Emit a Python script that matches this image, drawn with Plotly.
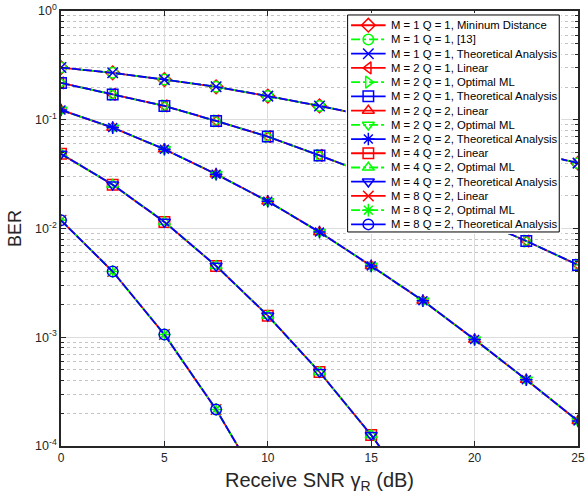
import plotly.graph_objects as go

# ---------------- data ----------------
snr_db = [0, 2.5, 5, 7.5, 10, 12.5, 15, 17.5, 20, 22.5, 25]

ber_m1_q1 = [0.302, 0.270, 0.234, 0.201, 0.165, 0.134, 0.107, 0.0851, 0.0668, 0.0519, 0.0399]
ber_m2_q1 = [0.218, 0.171, 0.134, 0.0975, 0.070, 0.047, 0.031, 0.0198, 0.0124, 0.00767, 0.00462]
ber_m2_q2 = [0.123, 0.0847, 0.0536, 0.0316, 0.0178, 0.00927, 0.00453, 0.00217, 0.000953, 0.000407, 0.000170]
ber_m4_q2 = [0.0486, 0.0253, 0.0115, 0.00453, 0.00158, 0.000479, 0.000126, 0.000028]
ber_m8_q2 = [0.0119, 0.00402, 0.00106, 0.000217, 0.000034]

series_names = [
    "M = 1 Q = 1, Mininum Distance",
    "M = 1 Q = 1, [13]",
    "M = 1 Q = 1, Theoretical Analysis",
    "M = 2 Q = 1, Linear",
    "M = 2 Q = 1, Optimal ML",
    "M = 2 Q = 1, Theoretical Analysis",
    "M = 2 Q = 2, Linear",
    "M = 2 Q = 2, Optimal ML",
    "M = 2 Q = 2, Theoretical Analysis",
    "M = 4 Q = 2, Linear",
    "M = 4 Q = 2, Optimal ML",
    "M = 4 Q = 2, Theoretical Analysis",
    "M = 8 Q = 2, Linear",
    "M = 8 Q = 2, Optimal ML",
    "M = 8 Q = 2, Theoretical Analysis",
]
series_values = [
    ber_m1_q1, ber_m1_q1, ber_m1_q1,
    ber_m2_q1, ber_m2_q1, ber_m2_q1,
    ber_m2_q2, ber_m2_q2, ber_m2_q2,
    ber_m4_q2, ber_m4_q2, ber_m4_q2,
    ber_m8_q2, ber_m8_q2, ber_m8_q2,
]

y_tick_vals = [1e-4, 1e-3, 1e-2, 1e-1, 1e0]
y_tick_text = ["10<sup>-4</sup>", "10<sup>-3</sup>", "10<sup>-2</sup>", "10<sup>-1</sup>", "10<sup>0</sup>"]
x_tick_vals = [0, 5, 10, 15, 20, 25]

# ---------------- styles ----------------
RED, GREEN, BLUE = "#FF0000", "#00FF00", "#0000FF"
colors = [RED, GREEN, BLUE] * 5
dashes = ["solid", "dashdot", "solid"] * 5
plot_dashes = ["solid", "dashdot", "9px,2px"] * 5
symbols = [
    "diamond-open", "circle-open", "x-thin-open",
    "triangle-left-open", "triangle-right-open", "square-open",
    "triangle-up-open", "triangle-down-open", "asterisk-open",
    "square-open", "triangle-up-open", "triangle-down-open",
    "x-thin-open", "asterisk-open", "circle-open",
]
LW = 1.8
MS = 10.5
FONT = "Liberation Sans, Arial, sans-serif"
AX = "#262626"

fig = go.Figure()

for name, vals, c, d, s in zip(series_names, series_values, colors, plot_dashes, symbols):
    fig.add_trace(go.Scatter(
        x=snr_db[:len(vals)], y=vals, name=name, mode="lines+markers",
        line=dict(color=c, width=LW, dash=d),
        marker=dict(symbol=s, size=MS, color=c, line=dict(color=c, width=1.5)),
        showlegend=False, xaxis="x", yaxis="y",
    ))

# ---------------- legend (inset panel in pixel-like units) ----------------
box_x0, box_x1, box_y0, box_y1 = 351.5, 566.0, 13.0, 231.0
row_y0, row_step = 23.3, 14.29
line_x0, line_x1, mark_x, text_x = 355.0, 390.0, 372.5, 393.3

fig.add_shape(type="rect", xref="x2", yref="y2", x0=box_x0, x1=box_x1, y0=box_y0, y1=box_y1,
              fillcolor="white", line=dict(color="#000000", width=1), layer="below")

for i, (name, c, d, s) in enumerate(zip(series_names, colors, dashes, symbols)):
    ry = row_y0 + row_step * i
    fig.add_trace(go.Scatter(
        x=[line_x0, line_x1], y=[ry, ry], mode="lines",
        line=dict(color=c, width=LW, dash=d), showlegend=False, hoverinfo="skip",
        xaxis="x2", yaxis="y2",
    ))
    fig.add_trace(go.Scatter(
        x=[mark_x], y=[ry], mode="markers",
        marker=dict(symbol=s, size=MS, color=c, line=dict(color=c, width=1.5)),
        showlegend=False, hoverinfo="skip", xaxis="x2", yaxis="y2",
    ))
    fig.add_annotation(x=text_x, y=ry, xref="x2", yref="y2", text=name, showarrow=False,
                       xanchor="left", yanchor="middle", font=dict(family=FONT, size=11.3, color="#000000"))

W, H = 587, 499
ML, MR, MT, MB = 61, 2, 9, 53
pw, ph = W - ML - MR, H - MT - MB
lx0, lx1, ly_top, ly_bot = 349.5, 568.0, 11.0, 233.0

fig.update_layout(
    width=W, height=H,
    margin=dict(l=ML, r=MR, t=MT, b=MB, pad=0),
    paper_bgcolor="white", plot_bgcolor="white",
    font=dict(family=FONT, size=12, color=AX),
    showlegend=False,
    xaxis=dict(
        range=[0, 25], tickmode="array", tickvals=x_tick_vals,
        ticks="inside", ticklen=5, tickcolor=AX, tickwidth=1,
        showline=True, linecolor=AX, linewidth=1.5, mirror="ticks",
        showgrid=True, gridcolor="#dcdcdc", gridwidth=1, zeroline=False,
        tickfont=dict(family=FONT, size=12, color=AX), ticklabeloverflow="allow",
        title=dict(text="Receive SNR γ<sub>R</sub> (dB)", font=dict(family=FONT, size=20, color=AX), standoff=9),
    ),
    yaxis=dict(
        type="log", range=[-4, 0], tickmode="array", tickvals=y_tick_vals, ticktext=y_tick_text,
        ticks="inside", ticklen=5, tickcolor=AX, tickwidth=1,
        showline=True, linecolor=AX, linewidth=1.5, mirror="ticks",
        showgrid=True, gridcolor="#dcdcdc", gridwidth=1, zeroline=False,
        tickfont=dict(family=FONT, size=12.5, color=AX), ticklabeloverflow="allow",
        minor=dict(tickmode="array",
                   tickvals=[k * 10.0 ** e for e in range(-4, 0) for k in range(2, 10)],
                   ticks="inside", ticklen=3, tickcolor=AX,
                   showgrid=True, gridcolor="#c4c4c4", griddash="dot", gridwidth=1),
        title=dict(text="BER", font=dict(family=FONT, size=18, color=AX), standoff=9),
    ),
    xaxis2=dict(domain=[(lx0 - ML) / pw, (lx1 - ML) / pw], range=[lx0, lx1], visible=False,
                anchor="y2", fixedrange=True),
    yaxis2=dict(domain=[(H - MB - ly_bot) / ph, (H - MB - ly_top) / ph], range=[ly_bot, ly_top],
                visible=False, anchor="x2", fixedrange=True),
)

fig.write_html("out.html")
